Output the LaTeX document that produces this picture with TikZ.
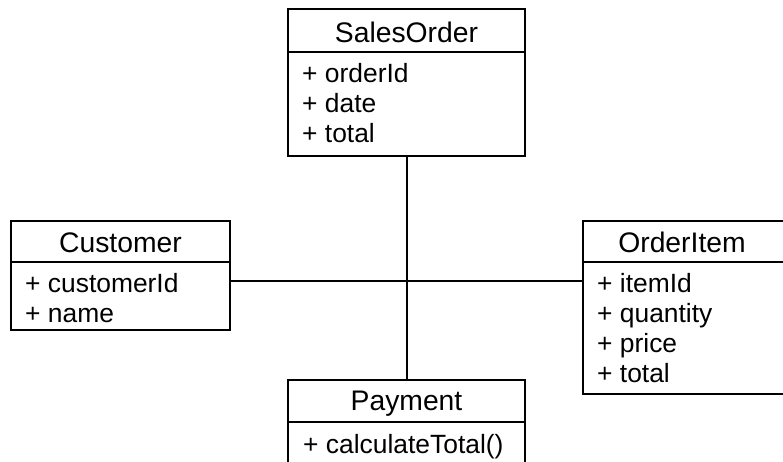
\documentclass[tikz,border=0pt]{standalone}
\usepackage{fontspec}
\setmainfont{Liberation Sans}
\begin{document}
\begin{tikzpicture}[x=1pt,y=-1pt,
  box/.style={draw, line width=1.6pt, inner sep=0pt, outer sep=0pt, anchor=north west},
  head/.style={anchor=base, inner sep=0pt, font=\fontsize{28.3}{28}\selectfont},
  attr/.style={anchor=base west, inner sep=0pt, font=\fontsize{26.4}{26}\selectfont},
  conn/.style={line width=1.6pt}]
\clip (0,0) rectangle (783,461);
\fill[white] (0,0) rectangle (783,461);
% SalesOrder
\node[box, minimum width=237pt, minimum height=147pt] (so) at (288,9) {};
\draw[line width=1.6pt] (288,52) -- (525,52);
\node[head] (soh) at (406.5,42) {SalesOrder};
\node[attr] (so1) at (302,82) {+ orderId};
\node[attr] (so2) at (302,112) {+ date};
\node[attr] (so3) at (302,142) {+ total};
% Customer
\node[box, minimum width=219pt, minimum height=109pt] (cu) at (11,221) {};
\draw[line width=1.6pt] (11,262) -- (230,262);
\node[head] (cuh) at (120.5,252) {Customer};
\node[attr] (cu1) at (25,292) {+ customerId};
\node[attr] (cu2) at (25,322) {+ name};
% OrderItem
\node[box, minimum width=210pt, minimum height=173pt] (oi) at (583,221) {};
\draw[line width=1.6pt] (583,262) -- (793,262);
\node[head] (oih) at (682,252) {OrderItem};
\node[attr] (oi1) at (597,292) {+ itemId};
\node[attr] (oi2) at (597,322) {+ quantity};
\node[attr] (oi3) at (597,352) {+ price};
\node[attr] (oi4) at (597,382) {+ total};
% Payment
\node[box, minimum width=237pt, minimum height=100pt] (pa) at (288,380) {};
\draw[line width=1.6pt] (288,422) -- (525,422);
\node[head] (pah) at (406.5,410) {Payment};
\node[attr] (pa1) at (303,453) {+ calculateTotal()};
% connectors
\coordinate (vx) at (407,0);
\coordinate (hy) at (0,281);
\draw[conn] (so.south -| vx) -- (pa.north -| vx);
\draw[conn] (cu.east |- hy) -- (oi.west |- hy);
\end{tikzpicture}
\end{document}
